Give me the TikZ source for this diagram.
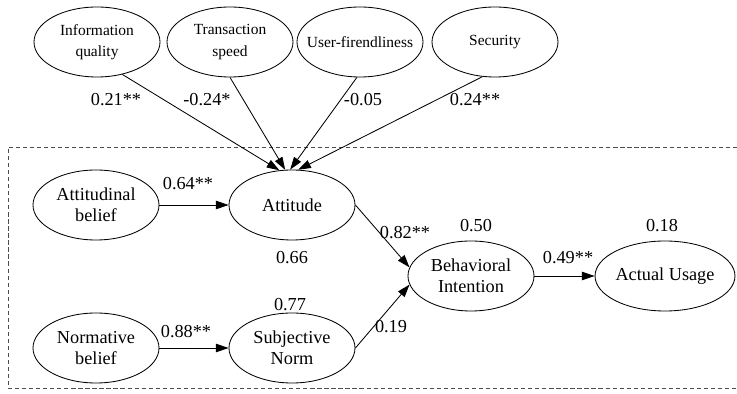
\documentclass[tikz,border=0pt]{standalone}
\usepackage{fontspec}
\setmainfont{Liberation Serif}
\usetikzlibrary{shapes.geometric,arrows.meta}

\tikzset{
	construct/.style={ellipse, draw, line width=0.6pt, minimum width=3.15cm, minimum height=1.75cm, inner sep=0pt, align=center, font=\fontsize{13}{15}\selectfont},
	factor/.style={construct, font=\fontsize{11}{15}\selectfont},
	link/.style={->, line width=0.6pt},
	coef/.style={inner sep=0pt, font=\fontsize{13}{15}\selectfont},
	>={Triangle[length=9pt,width=6pt]}
}

\begin{document}
\begin{tikzpicture}
				\useasboundingbox (0,0) rectangle (18.425,9.85);
				
				% dashed frame, open on the right
				\draw[densely dashed, gray!60!black, line width=0.5pt] (18.425,6.175) -- (0.2,6.175) -- (0.2,0.15) -- (18.425,0.15);
				
				% system factors
				\node[factor] (InfoQ) at (2.425,8.8) {Information\\quality};
				\node[factor] (Speed) at (5.75,8.8) {Transaction\\speed};
				\node[factor] (UserF) at (9.0,8.8) {\makebox[0pt]{User-firendliness}};
				\node[factor] (Secur) at (12.375,8.8) {Security};
				
				% model
				\node[construct] (AttBel) at (2.4,4.725) {Attitudinal\\belief};
				\node[construct] (Att) at (7.3,4.725) {Attitude};
				\node[construct] (NormBel) at (2.4,1.15) {Normative\\belief};
				\node[construct] (SubNorm) at (7.3,1.15) {Subjective\\Norm};
				\node[construct] (BehInt) at (11.775,2.95) {Behavioral\\Intention};
				\node[construct] (Usage) at (16.625,2.95) {Actual Usage};
				
				\draw[link] (InfoQ.-52) -- (Att.110);
				\draw[link] (Speed.south) -- (Att.101);
				\draw[link] (UserF.-95) -- (Att.93);
				\draw[link] (Secur.-110) -- (Att.80);
				
				\draw[link] (AttBel.east) -- (Att.west);
				\draw[link] (NormBel.east) -- (SubNorm.west);
				\draw[link] (Att.east) -- (BehInt.172);
				\draw[link] (SubNorm.east) -- (BehInt.188);
				\draw[link] (BehInt.east) -- (Usage.west);
				
				% coefficients
				\node[coef] (cInfoQ) at (2.9,7.35) {0.21**};
				\node[coef] (cSpeed) at (5.175,7.35) {-0.24*};
				\node[coef] (cUserF) at (9.075,7.35) {-0.05};
				\node[coef] (cSecur) at (11.875,7.35) {0.24**};
				\node[coef] (cAttBel) at (4.7,5.25) {0.64**};
				\node[coef] (cNormBel) at (4.65,1.55) {0.88**};
				\node[coef] (cAtt) at (10.125,4.025) {0.82**};
				\node[coef] (cSubNorm) at (9.775,1.675) {0.19};
				\node[coef] (cBehInt) at (14.2,3.4) {0.49**};
				
				% explained variance
				\node[coef] (rAtt) at (7.3,3.4) {0.66};
				\node[coef] (rSubNorm) at (7.25,2.225) {0.77};
				\node[coef] (rBehInt) at (11.9,4.2) {0.50};
				\node[coef] (rUsage) at (16.55,4.2) {0.18};
				
			\end{tikzpicture}
\end{document}
